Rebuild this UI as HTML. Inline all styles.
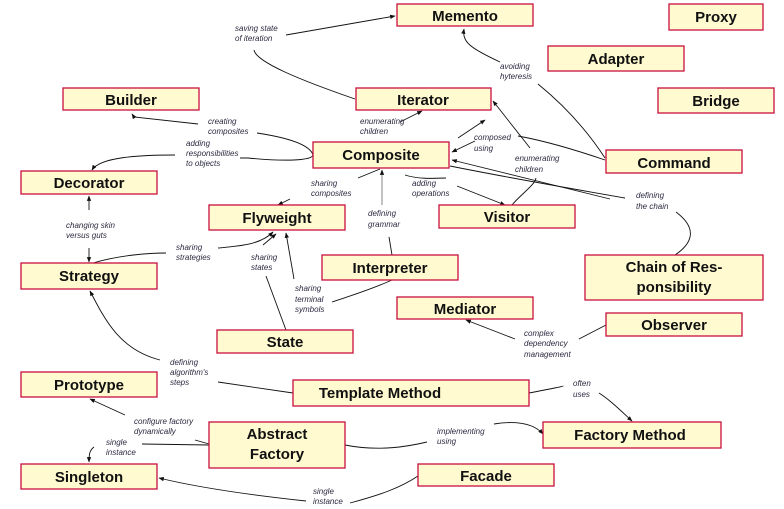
<!DOCTYPE html>
<html><head><meta charset="utf-8"><style>
html,body{margin:0;padding:0;background:#fff;}
svg{display:block;}
.n{fill:#fffad0;stroke:#c8103e;stroke-width:1.3;}
.t{font-family:"Liberation Sans",sans-serif;font-weight:bold;font-size:15px;fill:#111;text-anchor:middle;}
.l{font-family:"Liberation Sans",sans-serif;font-style:italic;font-size:8px;fill:#2a2a40;}
.e{fill:none;stroke:#111;stroke-width:0.9;}
</style></head><body>
<svg width="784" height="509" viewBox="0 0 784 509" xmlns="http://www.w3.org/2000/svg">
<defs><marker id="a" viewBox="0 0 10 10" refX="9" refY="5" markerWidth="6" markerHeight="6" orient="auto-start-reverse"><path d="M0,1 L10,5 L0,9 z" fill="#111"/></marker></defs>

<path class="e" d="M286,35 L395,16" marker-end="url(#a)"/>
<path class="e" d="M254,50 C256,62 300,80 355,99"/>
<path class="e" d="M500,62 C470,48 462,42 464,29" marker-end="url(#a)"/>
<path class="e" d="M538,84 C570,110 590,135 605,158"/>
<path class="e" d="M458,138 L485,120" marker-end="url(#a)"/>
<path class="e" d="M530,148 L493,101" marker-end="url(#a)"/>
<path class="e" d="M605,160 C570,148 540,140 518,136"/>
<path class="e" d="M475,141 L452,152" marker-end="url(#a)"/>
<path class="e" d="M240,158 L248,158 C290,162 312,160 313,155 C310,145 290,138 257,133"/>
<path class="e" d="M198,124 L134,117 L132,114" marker-end="url(#a)"/>
<path class="e" d="M175,155 C140,155 100,157 92,170" marker-end="url(#a)"/>
<path class="e" d="M400,122 L422,111" marker-end="url(#a)"/>
<path class="e" d="M89,210 L89,196" marker-end="url(#a)"/>
<path class="e" d="M89,248 L89,262" marker-end="url(#a)"/>
<path class="e" d="M93,263 C120,255 150,253 166,253"/>
<path class="e" d="M218,248 C240,246 260,245 273,232" marker-end="url(#a)"/>
<path class="e" d="M290,199 L278,205" marker-end="url(#a)"/>
<path class="e" d="M358,178 L380,169" />
<path class="e" d="M382,205 L382,170" marker-end="url(#a)" style="stroke:#777"/>
<path class="e" d="M389,237 L392,255"/>
<path class="e" d="M405,175 C420,180 440,178 446,178"/>
<path class="e" d="M457,186 L505,205" marker-end="url(#a)"/>
<path class="e" d="M512,205 C520,195 535,185 536,178"/>
<path class="e" d="M450,166 C520,180 580,190 625,198"/>
<path class="e" d="M610,199 L452,160" marker-end="url(#a)"/>
<path class="e" d="M676,212 C700,230 690,245 675,255"/>
<path class="e" d="M263,245 L276,234" marker-end="url(#a)"/>
<path class="e" d="M266,276 L286,330"/>
<path class="e" d="M294,279 L286,233" marker-end="url(#a)"/>
<path class="e" d="M332,302 C350,296 370,290 392,280"/>
<path class="e" d="M515,339 L466,320" marker-end="url(#a)"/>
<path class="e" d="M579,339 L606,325"/>
<path class="e" d="M160,360 C120,350 105,320 90,291" marker-end="url(#a)"/>
<path class="e" d="M218,382 L293,393"/>
<path class="e" d="M529,393 C550,389 565,386 563,386"/>
<path class="e" d="M599,393 C610,400 620,410 632,421" marker-end="url(#a)"/>
<path class="e" d="M125,415 L90,399" marker-end="url(#a)"/>
<path class="e" d="M142,444 L209,445"/>
<path class="e" d="M195,440 L209,444"/>
<path class="e" d="M94,447 C90,450 89,453 89,462" marker-end="url(#a)"/>
<path class="e" d="M345,445 C380,452 410,446 427,442"/>
<path class="e" d="M494,424 C520,420 535,425 543,434" marker-end="url(#a)"/>
<path class="e" d="M306,501 C250,495 200,488 159,478" marker-end="url(#a)"/>
<path class="e" d="M350,503 C380,495 400,488 418,476"/>

<rect class="n" x="397" y="4" width="136" height="22"/><text class="t" x="465" y="21">Memento</text>
<rect class="n" x="669" y="4" width="94" height="26"/><text class="t" x="716" y="22">Proxy</text>
<rect class="n" x="548" y="46" width="136" height="25"/><text class="t" x="616" y="64">Adapter</text>
<rect class="n" x="356" y="88" width="135" height="22"/><text class="t" x="423" y="105">Iterator</text>
<rect class="n" x="658" y="88" width="116" height="25"/><text class="t" x="716" y="106">Bridge</text>
<rect class="n" x="63" y="88" width="136" height="22"/><text class="t" x="131" y="105">Builder</text>
<rect class="n" x="313" y="142" width="136" height="26"/><text class="t" x="381" y="160">Composite</text>
<rect class="n" x="606" y="150" width="136" height="23"/><text class="t" x="674" y="168">Command</text>
<rect class="n" x="21" y="171" width="136" height="23"/><text class="t" x="89" y="188">Decorator</text>
<rect class="n" x="209" y="205" width="136" height="25"/><text class="t" x="277" y="223">Flyweight</text>
<rect class="n" x="439" y="205" width="136" height="23"/><text class="t" x="507" y="222">Visitor</text>
<rect class="n" x="322" y="255" width="136" height="25"/><text class="t" x="390" y="273">Interpreter</text>
<rect class="n" x="585" y="255" width="178" height="45"/><text class="t" x="674" y="272">Chain of Res-</text><text class="t" x="674" y="292">ponsibility</text>
<rect class="n" x="21" y="263" width="136" height="26"/><text class="t" x="89" y="281">Strategy</text>
<rect class="n" x="397" y="297" width="136" height="22"/><text class="t" x="465" y="314">Mediator</text>
<rect class="n" x="606" y="313" width="136" height="23"/><text class="t" x="674" y="330">Observer</text>
<rect class="n" x="217" y="330" width="136" height="23"/><text class="t" x="285" y="347">State</text>
<rect class="n" x="21" y="372" width="136" height="25"/><text class="t" x="89" y="390">Prototype</text>
<rect class="n" x="293" y="380" width="236" height="26"/><text class="t" x="380" y="398">Template Method</text>
<rect class="n" x="209" y="422" width="136" height="46"/><text class="t" x="277" y="439">Abstract</text><text class="t" x="277" y="459">Factory</text>
<rect class="n" x="543" y="422" width="178" height="26"/><text class="t" x="630" y="440">Factory Method</text>
<rect class="n" x="21" y="464" width="136" height="25"/><text class="t" x="89" y="482">Singleton</text>
<rect class="n" x="418" y="464" width="136" height="22"/><text class="t" x="486" y="481">Facade</text>

<text class="l" x="235" y="31">saving state</text><text class="l" x="235" y="41">of iteration</text>
<text class="l" x="500" y="69">avoiding</text><text class="l" x="500" y="79">hyteresis</text>
<text class="l" x="208" y="124">creating</text><text class="l" x="208" y="134">composites</text>
<text class="l" x="186" y="146">adding</text><text class="l" x="186" y="156">responsibilities</text><text class="l" x="186" y="166">to objects</text>
<text class="l" x="360" y="124">enumerating</text><text class="l" x="360" y="134">children</text>
<text class="l" x="474" y="140">composed</text><text class="l" x="474" y="151">using</text>
<text class="l" x="515" y="161">enumerating</text><text class="l" x="515" y="172">children</text>
<text class="l" x="311" y="186">sharing</text><text class="l" x="311" y="196">composites</text>
<text class="l" x="412" y="186">adding</text><text class="l" x="412" y="196">operations</text>
<text class="l" x="636" y="198">defining</text><text class="l" x="636" y="209">the chain</text>
<text class="l" x="368" y="216">defining</text><text class="l" x="368" y="227">grammar</text>
<text class="l" x="66" y="228">changing skin</text><text class="l" x="66" y="238">versus guts</text>
<text class="l" x="176" y="250">sharing</text><text class="l" x="176" y="260">strategies</text>
<text class="l" x="251" y="260">sharing</text><text class="l" x="251" y="270">states</text>
<text class="l" x="295" y="291">sharing</text><text class="l" x="295" y="302">terminal</text><text class="l" x="295" y="312">symbols</text>
<text class="l" x="524" y="336">complex</text><text class="l" x="524" y="346">dependency</text><text class="l" x="524" y="357">management</text>
<text class="l" x="170" y="365">defining</text><text class="l" x="170" y="375">algorithm's</text><text class="l" x="170" y="385">steps</text>
<text class="l" x="573" y="386">often</text><text class="l" x="573" y="397">uses</text>
<text class="l" x="134" y="424">configure factory</text><text class="l" x="134" y="434">dynamically</text>
<text class="l" x="106" y="445">single</text><text class="l" x="106" y="455">instance</text>
<text class="l" x="437" y="434">implementing</text><text class="l" x="437" y="444">using</text>
<text class="l" x="313" y="494">single</text><text class="l" x="313" y="504">instance</text>
</svg>
</body></html>
